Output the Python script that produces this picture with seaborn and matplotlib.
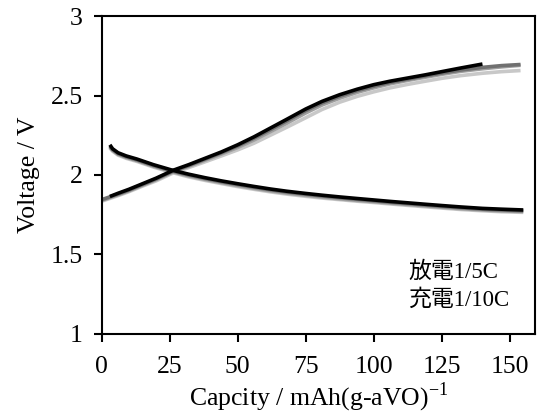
import matplotlib
matplotlib.use("Agg")
import matplotlib.pyplot as plt
import seaborn as sns

# ---------------- data ----------------
cycle_colors = ["#c8c8c8", "#a0a0a0", "#707070", "#000000"]

charge_cap = [0, 6, 10, 15, 20, 26.3, 32, 38, 44, 50, 56, 62, 68, 75, 81, 87.5, 94, 100,
              106, 112.5, 119, 125, 132, 140, 147, 154]
charge_v_light = [1.835, 1.87, 1.895, 1.93, 1.963, 2.013, 2.047, 2.083, 2.12, 2.158, 2.2, 2.25,
                  2.3, 2.36, 2.412, 2.458, 2.495, 2.523, 2.548, 2.57, 2.59, 2.608, 2.625, 2.64,
                  2.65, 2.657]
charge_v_mid = [1.84, 1.875, 1.9, 1.935, 1.97, 2.02, 2.055, 2.093, 2.132, 2.173, 2.22, 2.272,
                2.325, 2.39, 2.44, 2.483, 2.52, 2.548, 2.573, 2.595, 2.615, 2.633, 2.652, 2.668,
                2.68, 2.69]
charge_v_dark = [1.845, 1.88, 1.905, 1.94, 1.975, 2.025, 2.06, 2.1, 2.14, 2.183, 2.232, 2.285,
                 2.34, 2.405, 2.453, 2.495, 2.531, 2.558, 2.582, 2.603, 2.623, 2.641, 2.66, 2.677,
                 2.688, 2.695]
charge_cap_black = [3, 6, 10, 15, 20, 26.3, 32, 38, 44, 50, 56, 62, 68, 75, 81, 87.5, 94, 100,
                    106, 112.5, 119, 125, 132, 140]
charge_v_black = [1.865, 1.885, 1.91, 1.945, 1.98, 2.03, 2.065, 2.105, 2.145, 2.19, 2.24, 2.295,
                  2.35, 2.415, 2.463, 2.505, 2.54, 2.568, 2.59, 2.61, 2.63, 2.65, 2.673, 2.698]

dis_cap = [3, 4, 6, 9, 13, 19, 26, 32, 38, 44, 50, 56, 62, 68, 75, 81, 87.5, 94, 100, 106,
           112.5, 119, 125, 132, 140, 147, 155]
dis_v_black = [2.19, 2.165, 2.14, 2.12, 2.1, 2.065, 2.03, 2.005, 1.983, 1.963, 1.945, 1.928,
               1.912, 1.898, 1.884, 1.873, 1.862, 1.852, 1.843, 1.834, 1.825, 1.816, 1.808,
               1.799, 1.79, 1.785, 1.78]
dis_v_dark = [2.18, 2.16, 2.135, 2.115, 2.095, 2.06, 2.025, 2.0, 1.978, 1.958, 1.94, 1.923,
              1.907, 1.893, 1.879, 1.868, 1.857, 1.847, 1.838, 1.829, 1.82, 1.811, 1.803,
              1.794, 1.785, 1.78, 1.775]
dis_v_mid = [2.175, 2.155, 2.13, 2.11, 2.09, 2.055, 2.02, 1.994, 1.972, 1.952, 1.933, 1.916,
             1.9, 1.886, 1.872, 1.861, 1.85, 1.84, 1.832, 1.823, 1.814, 1.805, 1.797, 1.788,
             1.78, 1.774, 1.77]
dis_v_light = [2.17, 2.15, 2.125, 2.105, 2.085, 2.05, 2.015, 1.988, 1.966, 1.946, 1.927, 1.91,
               1.894, 1.88, 1.866, 1.855, 1.845, 1.835, 1.827, 1.818, 1.809, 1.8, 1.792, 1.783,
               1.775, 1.769, 1.765]

x_ticks = [0, 25, 50, 75, 100, 125, 150]
y_ticks = [1, 1.5, 2, 2.5, 3]
y_tick_labels = ["1", "1.5", "2", "2.5", "3"]
annotation_lines = ["放電1/5C", "充電1/10C"]

# ---------------- plot ----------------
sns.set_theme(style="ticks")
plt.rcParams["font.family"] = ["Liberation Serif", "Noto Sans CJK JP", "DejaVu Sans"]
plt.rcParams["mathtext.fontset"] = "custom"
plt.rcParams["mathtext.rm"] = "Liberation Serif"
plt.rcParams["text.color"] = "black"
plt.rcParams["axes.labelcolor"] = "black"
plt.rcParams["xtick.color"] = "black"
plt.rcParams["ytick.color"] = "black"

fig = plt.figure(figsize=(5.39, 4.18), dpi=100)
ax = fig.add_axes([0.1887, 0.2010, 0.8048, 0.7607])

charges = [(charge_cap, charge_v_light), (charge_cap, charge_v_mid),
           (charge_cap, charge_v_dark), (charge_cap_black, charge_v_black)]
discharges = [dis_v_light, dis_v_mid, dis_v_dark, dis_v_black]

for (cx, cy), dv, col in zip(charges, discharges, cycle_colors):
    sns.lineplot(x=cx, y=cy, ax=ax, color=col, lw=2.6, sort=False, estimator=None,
                 solid_capstyle="butt")
    sns.lineplot(x=dis_cap, y=dv, ax=ax, color=col, lw=2.6, sort=False, estimator=None,
                 solid_capstyle="butt")

ax.set_xlim(0, 159.5)
ax.set_ylim(1, 3)
ax.set_xticks(x_ticks)
ax.set_xticklabels([str(t) for t in x_ticks])
ax.set_yticks(y_ticks)
ax.set_yticklabels(y_tick_labels)

for s in ax.spines.values():
    s.set_visible(True)
    s.set_linewidth(1.5)
    s.set_color("black")

ax.tick_params(axis="both", direction="out", length=5.5, width=1.5, colors="black",
               labelsize=18.5)
ax.tick_params(axis="x", pad=10)
ax.tick_params(axis="y", pad=8)

ax.set_xlabel("Capcity / mAh(g-aVO)$^{\\mathrm{-1}}$", fontsize=18.5, labelpad=2,
              color="black")
ax.set_ylabel("Voltage / V", fontsize=18.5, labelpad=8, color="black")

ax.text(112.7, 1.352, annotation_lines[0], fontsize=16.5, ha="left", va="baseline",
        color="black")
ax.text(112.7, 1.176, annotation_lines[1], fontsize=16.5, ha="left", va="baseline",
        color="black")

ax.grid(False)
ax.set_facecolor("white")
fig.patch.set_facecolor("white")
fig.savefig("out.png", dpi=100)
